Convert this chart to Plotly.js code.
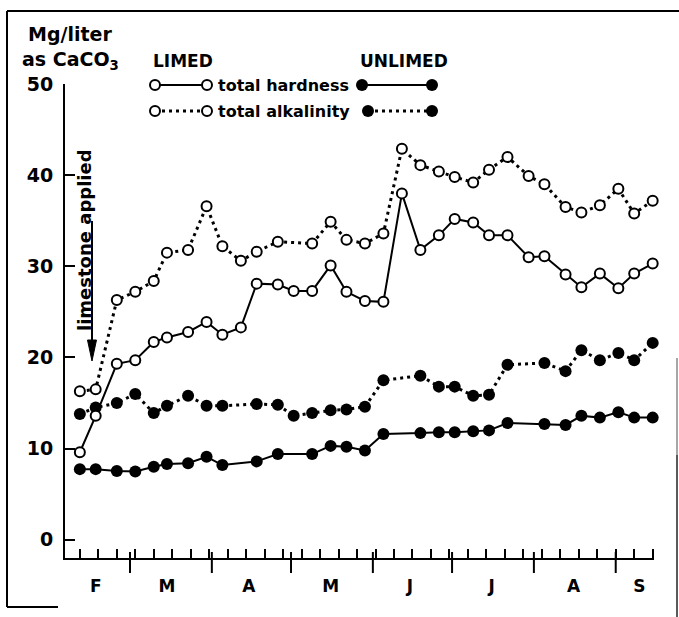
<!DOCTYPE html>
<html>
<head>
<meta charset="utf-8">
<script src="https://cdn.plot.ly/plotly-3.0.1.min.js"></script>
<style>
html,body{margin:0;padding:0;background:#fff;}
#chart{width:679px;height:617px;}
</style>
</head>
<body>
<div id="chart"></div>
<script>
// ---------------- data ----------------
const dates = ['1950-02-10','1950-02-16','1950-02-24','1950-03-03','1950-03-10','1950-03-15','1950-03-23','1950-03-30',
  '1950-04-05','1950-04-12','1950-04-18','1950-04-26','1950-05-02','1950-05-09','1950-05-16','1950-05-22',
  '1950-05-29','1950-06-05','1950-06-12','1950-06-19','1950-06-26','1950-07-02','1950-07-09','1950-07-15',
  '1950-07-22','1950-07-30','1950-08-05','1950-08-13','1950-08-19','1950-08-26','1950-09-02','1950-09-08','1950-09-15'];
const limedHardness = [9.6,13.6,19.3,19.7,21.7,22.2,22.8,23.9,22.5,23.3,28.1,28.0,27.3,27.3,30.1,27.2,
  26.2,26.1,38.0,31.8,33.4,35.2,34.8,33.4,33.4,31.0,31.1,29.1,27.7,29.2,27.6,29.2,30.3];
const limedAlkalinity = [16.3,16.5,26.3,27.2,28.4,31.5,31.8,36.6,32.2,30.6,31.6,32.7,null,32.5,34.9,32.9,
  32.5,33.6,42.9,41.1,40.4,39.8,39.2,40.6,42.0,39.9,39.0,36.5,35.9,36.7,38.5,35.8,37.2];
const unlimedHardness = [7.75,7.75,7.55,7.5,8.0,8.3,8.4,9.1,8.2,null,8.6,9.4,null,9.4,10.3,10.2,
  9.8,11.6,null,11.7,11.8,11.8,11.9,12.0,12.8,null,12.7,12.6,13.6,13.4,14.0,13.4,13.4];
const unlimedAlkalinity = [13.8,14.5,15.0,16.0,13.9,14.7,15.8,14.7,14.7,null,14.9,14.8,13.6,13.9,14.2,14.3,
  14.6,17.5,null,18.0,16.8,16.8,15.8,15.9,19.2,null,19.4,18.5,20.8,19.7,20.5,19.7,21.6];

const monthStarts = ['1950-03-01','1950-04-01','1950-05-01','1950-06-01','1950-07-01','1950-08-01','1950-09-01'];
const monthMids = ['1950-02-16','1950-03-15','1950-04-15','1950-05-16','1950-06-15','1950-07-16','1950-08-16','1950-09-10'];
const monthLetters = ['F','M','A','M','J','J','A','S'];
const yTicks = [0,10,20,30,40,50];
const seriesNames = ['total hardness','total alkalinity'];
const groupNames = ['LIMED','UNLIMED'];
const yTitle = ['Mg/liter','as CaCO<sub>3</sub>'];
const limeLabel = 'limestone applied';

// ---------------- geometry ----------------
const W=679, H=617, L=65, R=25, T=20, B=59;
const pw=W-L-R, ph=H-T-B;
const yTopPx = 84;                       // pixel row of value 50
const yDomTop = (H-B-yTopPx)/ph;
const px = x => (x-L)/pw;
const py = y => (H-B-y)/ph;

const FONT = 'DejaVu Sans';
const openMarker = {symbol:'circle', size:10, color:'#fff', line:{color:'#000', width:2}};
const fillMarker = {symbol:'circle', size:12, color:'#000', line:{width:0}};
const solidLine = {color:'#000', width:2};
const dotLine = {color:'#000', width:3, dash:'3px,4px'};

function series(y, marker, line){
  return {type:'scatter', mode:'lines+markers', x:dates, y:y, connectgaps:true, cliponaxis:false,
    marker:marker, line:line, xaxis:'x', yaxis:'y', hoverinfo:'skip', showlegend:false};
}
const traces = [
  series(unlimedHardness, fillMarker, solidLine),
  series(unlimedAlkalinity, fillMarker, dotLine),
  series(limedHardness, openMarker, solidLine),
  series(limedAlkalinity, openMarker, dotLine)
];

// ---------------- decorations (paper coordinates from page pixels) ----------------
function seg(x0,y0,x1,y1,w,c,dash){
  return {type:'line', xref:'paper', yref:'paper', x0:px(x0), y0:py(y0), x1:px(x1), y1:py(y1),
    line:{color:c||'#000', width:w, dash:dash||'solid'}};
}
function circ(xc, yc, r, filled){
  return {type:'circle', xref:'paper', yref:'paper', x0:px(xc-r), x1:px(xc+r), y0:py(yc+r), y1:py(yc-r),
    fillcolor: filled ? '#000' : '#fff', line:{color:'#000', width: filled ? 0 : 2}};
}
function tri(xc, yTopP, yTip, half){
  const p = [[xc-half,yTopP],[xc+half,yTopP],[xc,yTip]].map(q=>px(q[0]).toFixed(5)+','+py(q[1]).toFixed(5));
  return {type:'path', xref:'paper', yref:'paper', path:'M'+p[0]+' L'+p[1]+' L'+p[2]+' Z',
    fillcolor:'#000', line:{color:'#000', width:1}};
}
function key(x0, x1, yy, filled, dash){
  const r = filled ? 6 : 5;
  return [seg(x0, yy, x1, yy, dash ? 3 : 2, '#000', dash ? '3px,4px' : 'solid'),
          circ(x0, yy, r, filled), circ(x1, yy, r, filled)];
}
// month-boundary ticks crossing the x axis (placed on the date axis)
const monthTicks = monthStarts.map(d => ({type:'line', xref:'x', yref:'paper', x0:d, x1:d,
  y0:py(552), y1:py(573), line:{color:'#000', width:2}}));

const rows = [85, 111];
const shapes = [
  seg(7,11,679,11,2),
  seg(7,11,7,607,2),
  seg(7,607,58,607,2),
  seg(677,358,677,455,1.5,'#888'),
  seg(677,455,677,617,1.5,'#222'),
  seg(92,221,92,344,2),
  tri(92,340,361,4.5),
  ...key(155,207,rows[0],false,false),
  ...key(155,207,rows[1],false,true),
  ...key(362,432,rows[0],true,false),
  ...key(368,432,rows[1],true,true),
  ...monthTicks
];

const ann = [];
function txt(text, x, y, size, anchor, angle){
  ann.push({text:text, x:px(x), y:py(y), xref:'paper', yref:'paper', xanchor:anchor||'left', yanchor:'middle',
    showarrow:false, textangle:angle||0, font:{family:FONT, size:size, color:'#000', weight:'bold'}});
}
txt(yTitle[0], 26, 34, 19);
txt(yTitle[1], 20, 61, 19);
txt(groupNames[0], 151, 61, 17);
txt(groupNames[1], 404, 61, 17, 'center');
txt(seriesNames[0], 216, rows[0], 16);
txt(seriesNames[1], 216, rows[1], 16);
txt(limeLabel, 84, 240, 18, 'center', -90);

const xRange = ['1950-02-04 09:00','1950-09-15 12:00'];
const layout = {
  width:W, height:H, margin:{l:L, r:R, t:T, b:B, pad:0},
  paper_bgcolor:'#fff', plot_bgcolor:'rgba(0,0,0,0)',
  font:{family:FONT, size:17, color:'#000', weight:'bold'},
  showlegend:false,
  xaxis:{type:'date', domain:[0,1], range:xRange, anchor:'y', showline:true, linecolor:'#000', linewidth:2,
    tickmode:'array', tickvals:monthMids, ticktext:monthLetters, ticks:'',
    ticklabelstandoff:12, tickfont:{family:FONT, size:17, color:'#000', weight:'bold'},
    showgrid:false, zeroline:false, fixedrange:true,
    minor:{tickmode:'linear', tick0:'1950-02-10', dtick:604800000, ticks:'inside', ticklen:9, tickwidth:2,
      tickcolor:'#000', showgrid:false}},
  yaxis:{domain:[0,yDomTop], range:[-2,50], anchor:'x', showline:true, linecolor:'#000', linewidth:2,
    tickmode:'array', tickvals:yTicks, ticks:'inside', ticklen:10, tickwidth:2, tickcolor:'#000',
    showgrid:false, zeroline:false, fixedrange:true, ticklabelstandoff:6,
    tickfont:{family:FONT, size:19, color:'#000', weight:'bold'}},
  annotations:ann,
  shapes:shapes
};

Plotly.newPlot('chart', traces, layout, {staticPlot:true, displayModeBar:false});
</script>
</body>
</html>
